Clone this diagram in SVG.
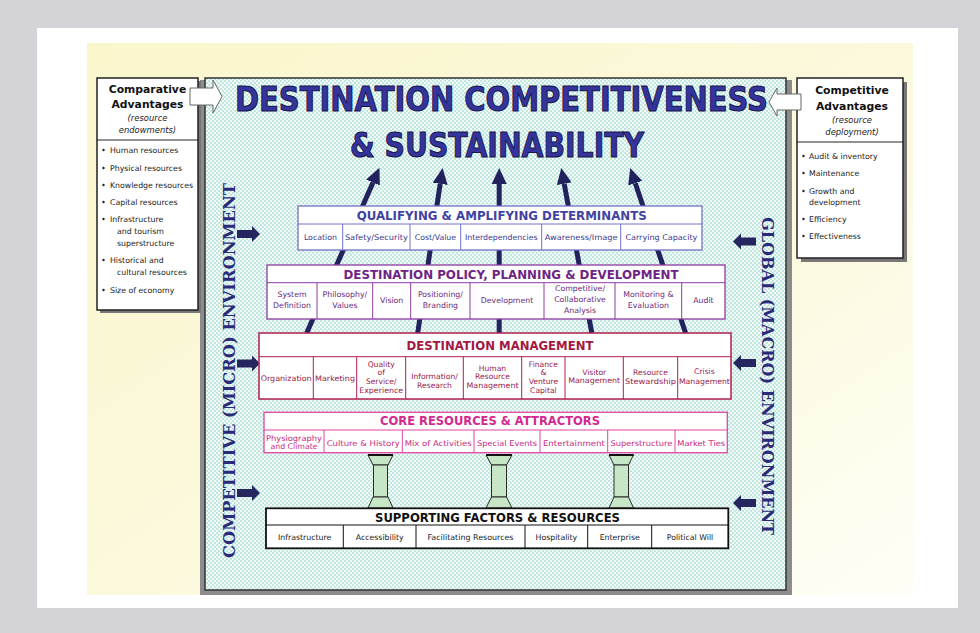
<svg xmlns="http://www.w3.org/2000/svg" width="980" height="633" viewBox="0 0 980 633">
<defs>
  <linearGradient id="cream" x1="0" y1="0" x2="1" y2="1">
    <stop offset="0" stop-color="#faf6cc"/>
    <stop offset="0.6" stop-color="#fcf9df"/>
    <stop offset="1" stop-color="#fefef6"/>
  </linearGradient>
  <pattern id="dots" width="4" height="4" patternUnits="userSpaceOnUse">
    <rect width="4" height="4" fill="#f2faf8"/>
    <circle cx="1" cy="1" r="0.8" fill="#86cfc4"/>
    <circle cx="3" cy="3" r="0.8" fill="#86cfc4"/>
  </pattern>
  <marker id="up" viewBox="0 0 16 15" refX="0" refY="7.5" markerWidth="16" markerHeight="15" markerUnits="userSpaceOnUse" orient="auto">
    <path d="M0,0 L16,7.5 L0,15 z" fill="#22225e"/>
  </marker>
  <style>
    .bt{font-family:"DejaVu Sans","Liberation Sans",sans-serif;font-weight:bold;font-size:11.5px;text-anchor:middle}
    .cell{font-family:"DejaVu Sans","Liberation Sans",sans-serif;font-size:7.8px;text-anchor:middle}
    .item{font-family:"DejaVu Sans","Liberation Sans",sans-serif;font-size:7.8px;fill:#222}
    .hdr{font-family:"DejaVu Sans","Liberation Sans",sans-serif;font-weight:bold;font-size:10.8px;text-anchor:middle;fill:#111}
    .sub{font-family:"DejaVu Sans","Liberation Sans",sans-serif;font-style:italic;font-size:8.4px;text-anchor:middle;fill:#222}
    .title{font-family:"DejaVu Sans","Liberation Sans",sans-serif;font-weight:bold;font-size:33px;text-anchor:middle;fill:#34349c;stroke:#15154a;stroke-width:1}
    .side{font-family:"DejaVu Serif","Liberation Serif",serif;font-weight:bold;font-size:16px;text-anchor:middle;fill:#2a2a78}
    .q{fill:#fff;stroke:#7272c6;stroke-width:1.3}
    .p{fill:#fff;stroke:#8e3aa0;stroke-width:1.3}
    .m{fill:#fff;stroke:#b01e4e;stroke-width:1.5}
    .c{fill:#fff;stroke:#e046a2;stroke-width:1.3}
    .s{fill:#fff;stroke:#111;stroke-width:1.8}
    .qd{stroke:#7272c6;stroke-width:1}
    .pd{stroke:#8e3aa0;stroke-width:1}
    .md{stroke:#b01e4e;stroke-width:1}
    .cd{stroke:#e046a2;stroke-width:1}
    .sd{stroke:#111;stroke-width:1}
    .env{fill:#25255f}
    .pillar{fill:#c6e6c6;stroke:#2a2a2a;stroke-width:1}
    .conn{stroke:#22225e;stroke-width:5;fill:none;marker-end:url(#up)}
  </style>
</defs>

<!-- background -->
<rect width="980" height="633" fill="#d3d3d8"/>
<rect x="37" y="28" width="921" height="580" fill="#ffffff"/>
<rect x="87" y="43" width="826" height="552" fill="url(#cream)"/>

<!-- main panel -->
<g id="main-panel">
  <rect x="200" y="80" width="592" height="515" fill="#8c8c8c"/>
  <rect x="205" y="78" width="581" height="512" fill="url(#dots)" stroke="#333" stroke-width="1.5"/>
</g>

<!-- connectors -->
<g id="connectors">
  <line class="conn" x1="306.7" y1="333" x2="373" y2="182.5"/>
  <line class="conn" x1="417.7" y1="333" x2="440.2" y2="183.8"/>
  <line class="conn" x1="499.2" y1="333" x2="499.2" y2="184"/>
  <line class="conn" x1="591.8" y1="333" x2="564.2" y2="183.7"/>
  <line class="conn" x1="685.6" y1="333" x2="635.3" y2="183.2"/>
</g>

<!-- title -->
<g id="title">
  <text class="title" x="501.5" y="111" textLength="533" lengthAdjust="spacingAndGlyphs">DESTINATION COMPETITIVENESS</text>
  <text class="title" x="497" y="157" textLength="294" lengthAdjust="spacingAndGlyphs">&amp; SUSTAINABILITY</text>
</g>

<!-- left box -->
<g id="comparative-advantages">
  <rect x="100" y="81" width="101" height="232" fill="#777"/>
  <rect x="97" y="78" width="101" height="232" fill="#fff" stroke="#222" stroke-width="1.5"/>
  <line x1="97" y1="140" x2="198" y2="140" stroke="#222" stroke-width="1"/>
  <text class="hdr" x="147.5" y="93">Comparative</text>
  <text class="hdr" x="147.5" y="108">Advantages</text>
  <text class="sub" x="147.5" y="121">(resource</text>
  <text class="sub" x="147.5" y="133">endowments)</text>
  <g fill="#222">
    <circle cx="103.5" cy="150" r="1.2"/><circle cx="103.5" cy="168" r="1.2"/><circle cx="103.5" cy="185" r="1.2"/>
    <circle cx="103.5" cy="202" r="1.2"/><circle cx="103.5" cy="219" r="1.2"/><circle cx="103.5" cy="260" r="1.2"/>
    <circle cx="103.5" cy="290" r="1.2"/>
  </g>
  <text class="item" x="110" y="153">Human resources</text>
  <text class="item" x="110" y="171">Physical resources</text>
  <text class="item" x="110" y="188">Knowledge resources</text>
  <text class="item" x="110" y="205">Capital resources</text>
  <text class="item" x="110" y="222">Infrastructure</text>
  <text class="item" x="117" y="234">and tourism</text>
  <text class="item" x="117" y="246">superstructure</text>
  <text class="item" x="110" y="263">Historical and</text>
  <text class="item" x="117" y="275">cultural resources</text>
  <text class="item" x="110" y="293">Size of economy</text>
  <polygon points="190,88 213,88 213,80 222,96.5 213,113 213,105 190,105" fill="#fff" stroke="#666" stroke-width="1"/>
</g>

<!-- right box -->
<g id="competitive-advantages">
  <rect x="801" y="82" width="106" height="180" fill="#777"/>
  <rect x="797" y="78" width="106" height="180" fill="#fff" stroke="#222" stroke-width="1.5"/>
  <line x1="797" y1="142" x2="903" y2="142" stroke="#222" stroke-width="1"/>
  <text class="hdr" x="852" y="94">Competitive</text>
  <text class="hdr" x="852" y="109.5">Advantages</text>
  <text class="sub" x="852" y="122.5">(resource</text>
  <text class="sub" x="852" y="134.5">deployment)</text>
  <g fill="#222">
    <circle cx="803.5" cy="156" r="1.2"/><circle cx="803.5" cy="173" r="1.2"/><circle cx="803.5" cy="191" r="1.2"/>
    <circle cx="803.5" cy="219" r="1.2"/><circle cx="803.5" cy="236" r="1.2"/>
  </g>
  <text class="item" x="809" y="159">Audit &amp; inventory</text>
  <text class="item" x="809" y="176">Maintenance</text>
  <text class="item" x="809" y="194">Growth and</text>
  <text class="item" x="809" y="205">development</text>
  <text class="item" x="809" y="222">Efficiency</text>
  <text class="item" x="809" y="239">Effectiveness</text>
  <polygon points="769,102 777,88 777,94 801,94 801,110 777,110 777,116" fill="#fff" stroke="#666" stroke-width="1"/>
</g>

<!-- environment labels and arrows -->
<g id="micro-environment">
  <text class="side" transform="translate(235,370.5) rotate(-90)" x="0" y="0" textLength="375" lengthAdjust="spacingAndGlyphs">COMPETITIVE (MICRO) ENVIRONMENT</text>
  <polygon class="env" points="237,230 252,230 252,226 260,234 252,242 252,238 237,238"/>
  <polygon class="env" points="237,359.5 252,359.5 252,355.5 260,363.5 252,371.5 252,367.5 237,367.5"/>
  <polygon class="env" points="237,489 252,489 252,485 260,493 252,501 252,497 237,497"/>
</g>
<g id="macro-environment">
  <text class="side" transform="translate(761.5,376) rotate(90)" x="0" y="0" textLength="318" lengthAdjust="spacingAndGlyphs">GLOBAL (MACRO) ENVIRONMENT</text>
  <polygon class="env" points="756,237.5 741,237.5 741,233.5 733,241.5 741,249.5 741,245.5 756,245.5"/>
  <polygon class="env" points="756,359 741,359 741,355 733,363 741,371 741,367 756,367"/>
  <polygon class="env" points="756,499 741,499 741,495 733,503 741,511 741,507 756,507"/>
</g>

<!-- qualifying & amplifying -->
<g id="qualifying">
  <rect class="q" x="298" y="206" width="404" height="44"/>
  <line class="qd" x1="298" y1="224" x2="702" y2="224"/>
  <line class="qd" x1="342.7" y1="224" x2="342.7" y2="250"/>
  <line class="qd" x1="410" y1="224" x2="410" y2="250"/>
  <line class="qd" x1="460.7" y1="224" x2="460.7" y2="250"/>
  <line class="qd" x1="541.7" y1="224" x2="541.7" y2="250"/>
  <line class="qd" x1="620.7" y1="224" x2="620.7" y2="250"/>
  <text class="bt" x="501.7" y="220" fill="#4242a2" textLength="290" lengthAdjust="spacingAndGlyphs">QUALIFYING &amp; AMPLIFYING DETERMINANTS</text>
  <g class="cell" fill="#3a3a90">
    <text x="320.4" y="240">Location</text>
    <text x="376.4" y="240" textLength="63" lengthAdjust="spacingAndGlyphs">Safety/Security</text>
    <text x="435.4" y="240">Cost/Value</text>
    <text x="501.2" y="240">Interdependencies</text>
    <text x="581.2" y="240" textLength="73" lengthAdjust="spacingAndGlyphs">Awareness/Image</text>
    <text x="661.4" y="240" textLength="72" lengthAdjust="spacingAndGlyphs">Carrying Capacity</text>
  </g>
</g>

<!-- policy -->
<g id="policy">
  <rect class="p" x="267" y="265" width="458" height="54"/>
  <line class="pd" x1="267" y1="282.7" x2="725" y2="282.7"/>
  <line class="pd" x1="317" y1="282.7" x2="317" y2="319"/>
  <line class="pd" x1="372.7" y1="282.7" x2="372.7" y2="319"/>
  <line class="pd" x1="410.7" y1="282.7" x2="410.7" y2="319"/>
  <line class="pd" x1="470" y1="282.7" x2="470" y2="319"/>
  <line class="pd" x1="544" y1="282.7" x2="544" y2="319"/>
  <line class="pd" x1="615" y1="282.7" x2="615" y2="319"/>
  <line class="pd" x1="681.7" y1="282.7" x2="681.7" y2="319"/>
  <text class="bt" x="511" y="278.5" fill="#6e2484" textLength="335" lengthAdjust="spacingAndGlyphs">DESTINATION POLICY, PLANNING &amp; DEVELOPMENT</text>
  <g class="cell" fill="#6a2a7a">
    <text x="292" y="297">System</text><text x="292" y="308">Definition</text>
    <text x="344.9" y="297">Philosophy/</text><text x="344.9" y="308">Values</text>
    <text x="391.7" y="302.5">Vision</text>
    <text x="440.4" y="297">Positioning/</text><text x="440.4" y="308">Branding</text>
    <text x="507" y="302.5">Development</text>
    <text x="580" y="290.7">Competitive/</text><text x="580" y="301.7">Collaborative</text><text x="580" y="312.7">Analysis</text>
    <text x="648.4" y="297">Monitoring &amp;</text><text x="648.4" y="308">Evaluation</text>
    <text x="703.4" y="302.5">Audit</text>
  </g>
</g>

<!-- management -->
<g id="management">
  <rect class="m" x="259" y="333" width="472" height="66"/>
  <line class="md" x1="259" y1="356.7" x2="731" y2="356.7"/>
  <line class="md" x1="313.3" y1="356.7" x2="313.3" y2="399"/>
  <line class="md" x1="356.7" y1="356.7" x2="356.7" y2="399"/>
  <line class="md" x1="405.7" y1="356.7" x2="405.7" y2="399"/>
  <line class="md" x1="463.3" y1="356.7" x2="463.3" y2="399"/>
  <line class="md" x1="521.7" y1="356.7" x2="521.7" y2="399"/>
  <line class="md" x1="565" y1="356.7" x2="565" y2="399"/>
  <line class="md" x1="623.3" y1="356.7" x2="623.3" y2="399"/>
  <line class="md" x1="677.7" y1="356.7" x2="677.7" y2="399"/>
  <text class="bt" x="500" y="349.5" fill="#a3183e" textLength="187" lengthAdjust="spacingAndGlyphs">DESTINATION MANAGEMENT</text>
  <g class="cell" fill="#9a2046" style="font-size:7.6px">
    <text x="286.2" y="380.5" textLength="51" lengthAdjust="spacingAndGlyphs">Organization</text>
    <text x="335" y="380.5" textLength="40" lengthAdjust="spacingAndGlyphs">Marketing</text>
    <text x="381.2" y="367.3">Quality</text><text x="381.2" y="375.3">of</text><text x="381.2" y="383.6">Service/</text><text x="381.2" y="392.7" textLength="44" lengthAdjust="spacingAndGlyphs">Experience</text>
    <text x="434.5" y="379.3">Information/</text><text x="434.5" y="387.5">Research</text>
    <text x="492.5" y="370.7">Human</text><text x="492.5" y="379">Resource</text><text x="492.5" y="387.7" textLength="52" lengthAdjust="spacingAndGlyphs">Management</text>
    <text x="543.4" y="366.7">Finance</text><text x="543.4" y="375">&amp;</text><text x="543.4" y="384">Venture</text><text x="543.4" y="392.7">Capital</text>
    <text x="594.2" y="374.5">Visitor</text><text x="594.2" y="383" textLength="52" lengthAdjust="spacingAndGlyphs">Management</text>
    <text x="650.5" y="375">Resource</text><text x="650.5" y="384" textLength="51" lengthAdjust="spacingAndGlyphs">Stewardship</text>
    <text x="704.4" y="374">Crisis</text><text x="704.4" y="383.5" textLength="51" lengthAdjust="spacingAndGlyphs">Management</text>
  </g>
</g>

<!-- core resources -->
<g id="core-resources">
  <rect class="c" x="264" y="412.3" width="463.3" height="40.4"/>
  <line class="cd" x1="264" y1="430" x2="727.3" y2="430"/>
  <line class="cd" x1="324" y1="430" x2="324" y2="452.7"/>
  <line class="cd" x1="402.3" y1="430" x2="402.3" y2="452.7"/>
  <line class="cd" x1="474" y1="430" x2="474" y2="452.7"/>
  <line class="cd" x1="540" y1="430" x2="540" y2="452.7"/>
  <line class="cd" x1="607.7" y1="430" x2="607.7" y2="452.7"/>
  <line class="cd" x1="675" y1="430" x2="675" y2="452.7"/>
  <text class="bt" x="490" y="424.8" fill="#d22a8e" textLength="220" lengthAdjust="spacingAndGlyphs">CORE RESOURCES &amp; ATTRACTORS</text>
  <g class="cell" fill="#c72a80">
    <text x="294" y="440.5" textLength="56" lengthAdjust="spacingAndGlyphs">Physiography</text><text x="294" y="448.5">and Climate</text>
    <text x="363.2" y="446" textLength="73" lengthAdjust="spacingAndGlyphs">Culture &amp; History</text>
    <text x="438.2" y="446" textLength="67" lengthAdjust="spacingAndGlyphs">Mix of Activities</text>
    <text x="507" y="446" textLength="60" lengthAdjust="spacingAndGlyphs">Special Events</text>
    <text x="573.9" y="446" textLength="62" lengthAdjust="spacingAndGlyphs">Entertainment</text>
    <text x="641.4" y="446" textLength="62" lengthAdjust="spacingAndGlyphs">Superstructure</text>
    <text x="701.2" y="446" textLength="48" lengthAdjust="spacingAndGlyphs">Market Ties</text>
  </g>
</g>

<!-- pillars -->
<g id="pillar-1">
  <polygon class="pillar" points="368,455 393,455 388,465 373,465"/>
  <rect class="pillar" x="373.5" y="465" width="14" height="32"/>
  <polygon class="pillar" points="373,497 388,497 393,508 368,508"/>
  <line x1="368" y1="455" x2="393" y2="455" stroke="#111" stroke-width="2"/>
</g>
<g id="pillar-2">
  <polygon class="pillar" points="486,455 512,455 506.5,465 491.5,465"/>
  <rect class="pillar" x="491.5" y="465" width="15" height="32"/>
  <polygon class="pillar" points="491.5,497 506.5,497 512,508 486,508"/>
  <line x1="486" y1="455" x2="512" y2="455" stroke="#111" stroke-width="2"/>
</g>
<g id="pillar-3">
  <polygon class="pillar" points="609,455 633.5,455 628.5,465 614,465"/>
  <rect class="pillar" x="614" y="465" width="14.5" height="32"/>
  <polygon class="pillar" points="614,497 628.5,497 633.5,508 609,508"/>
  <line x1="609" y1="455" x2="633.5" y2="455" stroke="#111" stroke-width="2"/>
</g>

<!-- supporting factors -->
<g id="supporting-factors">
  <rect class="s" x="266" y="508.3" width="462.3" height="40"/>
  <line class="sd" x1="266" y1="525" x2="728.3" y2="525"/>
  <line class="sd" x1="343.3" y1="525" x2="343.3" y2="548.3"/>
  <line class="sd" x1="416" y1="525" x2="416" y2="548.3"/>
  <line class="sd" x1="525" y1="525" x2="525" y2="548.3"/>
  <line class="sd" x1="587.7" y1="525" x2="587.7" y2="548.3"/>
  <line class="sd" x1="651.7" y1="525" x2="651.7" y2="548.3"/>
  <text class="bt" x="497.5" y="522" fill="#111" textLength="245" lengthAdjust="spacingAndGlyphs">SUPPORTING FACTORS &amp; RESOURCES</text>
  <g class="cell" fill="#222">
    <text x="304.7" y="539.5">Infrastructure</text>
    <text x="379.7" y="539.5">Accessibility</text>
    <text x="470.5" y="539.5" textLength="86" lengthAdjust="spacingAndGlyphs">Facilitating Resources</text>
    <text x="556.4" y="539.5">Hospitality</text>
    <text x="619.7" y="539.5">Enterprise</text>
    <text x="690" y="539.5">Political Will</text>
  </g>
</g>
</svg>
